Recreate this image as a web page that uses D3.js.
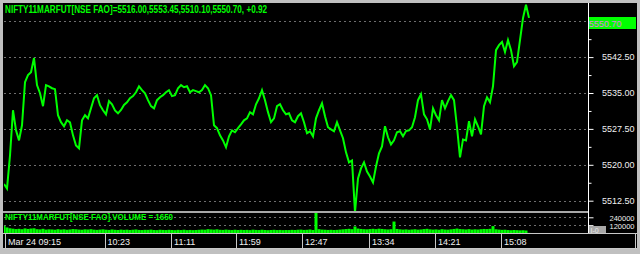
<!DOCTYPE html>
<html>
<head>
<meta charset="utf-8">
<script src="https://cdn.jsdelivr.net/npm/d3@7/dist/d3.min.js"></script>
<style>
body { margin: 0; background: #c0c0c0; }
svg { display: block; font-family: "Liberation Sans", Arial, sans-serif; }
</style>
</head>
<body>
<svg id="chart" width="640" height="254"></svg>
<script>
var width = 640;
var height = 254;

// header values
var symbol = "NIFTY11MARFUT[NSE FAO]";
var ohlc = ["5516.00", "5553.45", "5510.10", "5550.70"];
var change = "+0.92";
var lastVolume = 1650;

// price, one sample per bar
var prices = [
  5516.00, 5515.05, 5521.95, 5531.40, 5527.20, 5525.10, 5528.25, 5537.25, 5538.75, 5539.35, 5542.30, 5536.65, 5534.95, 5532.25, 5536.65, 5536.40,
  5536.00, 5535.80, 5530.35, 5528.90, 5528.05, 5529.30, 5528.85, 5526.15, 5524.05, 5523.45, 5529.30, 5530.35, 5529.70, 5531.80, 5533.90, 5534.55,
  5532.45, 5531.40, 5530.55, 5533.30, 5532.65, 5531.35, 5530.75, 5531.45, 5532.50, 5533.05, 5533.90, 5534.35, 5535.15, 5536.40, 5535.60, 5534.95,
  5533.50, 5532.25, 5531.80, 5533.50, 5534.10, 5534.55, 5535.15, 5535.60, 5534.35, 5534.55, 5536.00, 5536.65, 5536.20, 5536.40, 5535.15, 5535.60,
  5535.40, 5535.15, 5535.60, 5536.65, 5536.00, 5534.55, 5528.25, 5527.65, 5526.15, 5525.10, 5523.65, 5525.95, 5527.20, 5526.80, 5527.65, 5528.45,
  5529.30, 5529.70, 5531.00, 5530.55, 5532.65, 5533.90, 5535.60, 5533.50, 5531.00, 5528.90, 5529.70, 5532.25, 5532.65, 5531.40, 5530.55, 5530.75,
  5529.30, 5528.90, 5530.15, 5530.75, 5528.90, 5526.60, 5527.00, 5525.95, 5529.70, 5531.40, 5532.85, 5530.15, 5527.85, 5527.40, 5527.00, 5528.90,
  5527.20, 5525.55, 5522.60, 5520.50, 5520.90, 5510.10, 5517.15, 5519.25, 5520.50, 5518.60, 5517.55, 5516.30, 5519.65, 5522.40, 5523.85, 5528.05,
  5525.75, 5524.25, 5525.10, 5526.80, 5527.00, 5525.95, 5527.05, 5527.20, 5527.85, 5529.95, 5533.50, 5534.75, 5530.55, 5529.50, 5527.40, 5531.80,
  5530.35, 5529.30, 5533.50, 5531.80, 5533.30, 5534.55, 5533.50, 5527.85, 5521.55, 5525.30, 5525.10, 5529.10, 5525.95, 5529.50, 5528.05, 5526.35,
  5532.25, 5534.10, 5533.05, 5536.40, 5543.95, 5545.00, 5545.65, 5543.55, 5546.05, 5543.95, 5540.60, 5541.45, 5546.05, 5550.65, 5553.45, 5550.70
];

var volumes = [
  110000, 85000, 72000, 66000, 60000, 64000, 58000, 70000, 62000, 68000, 72000, 58000, 55000, 64000, 52000, 56000,
  54000, 50000, 58000, 52000, 56000, 50000, 54000, 60000, 57000, 52000, 50000, 56000, 53000, 58000, 51000, 48000,
  52000, 56000, 50000, 47000, 54000, 49000, 46000, 52000, 48000, 51000, 46000, 50000, 54000, 47000, 45000, 49000,
  48000, 52000, 46000, 44000, 50000, 47000, 45000, 49000, 46000, 43000, 48000, 45000, 50000, 44000, 47000, 44000,
  46000, 49000, 52000, 50000, 58000, 54000, 51000, 56000, 49000, 47000, 52000, 48000, 45000, 50000, 46000, 49000,
  46000, 48000, 44000, 51000, 47000, 45000, 50000, 46000, 43000, 46000, 49000, 45000, 47000, 44000, 46000, 45000,
  48000, 46000, 50000, 52000, 47000, 49000, 54000, 46000, 310000, 58000, 52000, 50000, 47000, 49000, 46000, 48000,
  52000, 56000, 60000, 64000, 58000, 100000, 68000, 62000, 58000, 56000, 60000, 64000, 59000, 66000, 62000, 57000,
  54000, 58000, 175000, 62000, 56000, 52000, 55000, 50000, 53000, 57000, 51000, 54000, 60000, 64000, 56000, 52000,
  55000, 50000, 58000, 53000, 51000, 56000, 62000, 68000, 60000, 57000, 54000, 59000, 52000, 56000, 53000, 58000,
  62000, 60000, 64000, 105000, 57000, 52000, 48000, 50000, 45000, 42000, 46000, 43000, 40000, 42000, 38000, 1650
];

var priceTicks = [5550.00, 5542.50, 5535.00, 5527.50, 5520.00, 5512.50];
var priceMinorTicks = [5546.25, 5538.75, 5531.25, 5523.75, 5516.25];
var volumeTicks = [240000, 120000];
var timeLabels = ["Mar 24 09:15", "10:23", "11:11", "11:59", "12:47", "13:34", "14:21", "15:08"];
var timeBars = [0.3, 33.5, 55.7, 77.3, 99.3, 121.7, 143.7, 165.7];

var green = "#00ff00";
var plotLeft = 4, plotRight = 588;
var priceTop = 3, priceBottom = 211;
var volTop = 213, volBottom = 233;
var axisBottom = 249;

var svg = d3.select("#chart");

// frame
svg.append("rect").attr("width", width).attr("height", height).attr("fill", "#c0c0c0");
svg.append("rect").attr("x", 3).attr("y", 3).attr("width", 634).attr("height", axisBottom - 3).attr("fill", "#000");

var x = d3.scaleLinear().domain([0, prices.length - 1]).range([plotLeft, 529]);
var y = d3.scaleLinear().domain([5512.5, 5550]).range([200.7, 21.2]);
var yVol = d3.scaleLinear().domain([0, 240000]).range([volBottom, 217.3]);

var defs = svg.append("defs");
defs.append("clipPath").attr("id", "clipPrice")
  .append("rect").attr("x", plotLeft).attr("y", priceTop).attr("width", plotRight - plotLeft).attr("height", priceBottom - priceTop);
defs.append("clipPath").attr("id", "clipVol")
  .append("rect").attr("x", plotLeft).attr("y", volTop).attr("width", plotRight - plotLeft).attr("height", volBottom - volTop);

// dashed grid
svg.append("g").selectAll("line").data(priceTicks).enter().append("line")
  .attr("x1", plotLeft).attr("x2", plotRight)
  .attr("y1", function(d) { return Math.round(y(d)) + 0.5; })
  .attr("y2", function(d) { return Math.round(y(d)) + 0.5; })
  .attr("stroke", "#6e6e6e").attr("stroke-dasharray", "2,3");

svg.append("g").selectAll("line").data(volumeTicks).enter().append("line")
  .attr("x1", plotLeft).attr("x2", plotRight)
  .attr("y1", function(d) { return Math.round(yVol(d)) + 0.5; })
  .attr("y2", function(d) { return Math.round(yVol(d)) + 0.5; })
  .attr("stroke", "#6e6e6e").attr("stroke-dasharray", "2,3");

// panel separator
svg.append("line").attr("x1", 3).attr("x2", plotRight).attr("y1", 212).attr("y2", 212)
  .attr("stroke", "#a8a8a8").attr("stroke-width", 2);

// volume bars
svg.append("g").attr("clip-path", "url(#clipVol)")
  .selectAll("rect").data(volumes).enter().append("rect")
  .attr("x", function(d, i) { return x(i) - 1.5; })
  .attr("width", 3)
  .attr("y", function(d) { return yVol(d); })
  .attr("height", function(d) { return volBottom - yVol(d); })
  .attr("fill", green);

// price line
var line = d3.line().x(function(d, i) { return x(i); }).y(function(d) { return y(d); });
svg.append("path").datum(prices)
  .attr("clip-path", "url(#clipPrice)")
  .attr("d", line)
  .attr("fill", "none").attr("stroke", green).attr("stroke-width", 2)
  .attr("stroke-linejoin", "miter");

// titles
svg.append("text").attr("x", 5).attr("y", 13)
  .attr("font-size", 10).attr("font-weight", "bold").attr("fill", green)
  .attr("textLength", 262).attr("lengthAdjust", "spacingAndGlyphs")
  .text(symbol + "=" + ohlc.join(",") + ", " + change);

svg.append("text").attr("x", 5).attr("y", 220)
  .attr("font-size", 9).attr("font-weight", "bold").attr("fill", green)
  .attr("textLength", 168).attr("lengthAdjust", "spacingAndGlyphs")
  .text(symbol + ".VOLUME = " + lastVolume);

// right axis
svg.append("line").attr("x1", 588.5).attr("x2", 588.5).attr("y1", 3).attr("y2", volBottom)
  .attr("stroke", "#fff");

var lastPrice = prices[prices.length - 1];
var yAxis = svg.append("g").attr("transform", "translate(588.5,0)")
  .call(d3.axisRight(y).tickValues(priceTicks).tickSize(5)
    .tickFormat(function(d) { return Math.abs(d - lastPrice) < 2 ? "" : d3.format(".2f")(d); }));
var yMinor = svg.append("g").attr("transform", "translate(588.5,0)")
  .call(d3.axisRight(y).tickValues(priceMinorTicks).tickSize(3).tickFormat(""));
var vAxis = svg.append("g").attr("transform", "translate(588.5,0)")
  .call(d3.axisRight(yVol).tickValues(volumeTicks).tickSize(5).tickFormat(d3.format("d")));

[yAxis, yMinor, vAxis].forEach(function(g) {
  g.select(".domain").remove();
  g.selectAll(".tick line").attr("stroke", "#fff");
  g.selectAll(".tick text").attr("fill", "#f0f0f0").attr("font-size", 9)
    .attr("font-family", "Liberation Sans, Arial, sans-serif")
    .attr("text-anchor", "end").attr("x", 46);
});
vAxis.selectAll(".tick text").attr("font-size", 7.5).attr("dy", "0.45em");

// last price box
var lastY = Math.round(y(lastPrice));
svg.append("rect").attr("x", 589).attr("y", lastY - 1).attr("width", 47).attr("height", 12).attr("fill", green);
svg.append("text").attr("x", 589).attr("y", lastY + 8.5)
  .attr("font-size", 9).attr("fill", "#e080e0")
  .text(ohlc[3]);

// I-0 box
svg.append("rect").attr("x", 589).attr("y", 226).attr("width", 17).attr("height", 7).attr("fill", "#a8a8a8");
svg.append("text").attr("x", 590.5).attr("y", 232.5).attr("font-size", 7).attr("fill", "#e8e8e8").text("I-0");

// time axis boxes
var tAxis = svg.append("g");
tAxis.append("line").attr("x1", 3).attr("x2", 637).attr("y1", volBottom + 0.5).attr("y2", volBottom + 0.5).attr("stroke", "#c8c8c8");
tAxis.append("line").attr("x1", 3).attr("x2", 637).attr("y1", axisBottom - 0.5).attr("y2", axisBottom - 0.5).attr("stroke", "#c8c8c8");
tAxis.append("line").attr("x1", 635.5).attr("x2", 635.5).attr("y1", volBottom).attr("y2", axisBottom).attr("stroke", "#c8c8c8");
tAxis.selectAll("line.sep").data(timeBars).enter().append("line").attr("class", "sep")
  .attr("x1", function(d) { return Math.round(x(d)) + 0.5; })
  .attr("x2", function(d) { return Math.round(x(d)) + 0.5; })
  .attr("y1", volBottom).attr("y2", axisBottom)
  .attr("stroke", "#c8c8c8");
tAxis.selectAll("text").data(timeLabels).enter().append("text")
  .attr("x", function(d, i) { return x(timeBars[i]) + 3; })
  .attr("y", 244.5)
  .attr("font-size", 9).attr("fill", "#f0f0f0")
  .text(function(d) { return d; });
</script>
</body>
</html>
